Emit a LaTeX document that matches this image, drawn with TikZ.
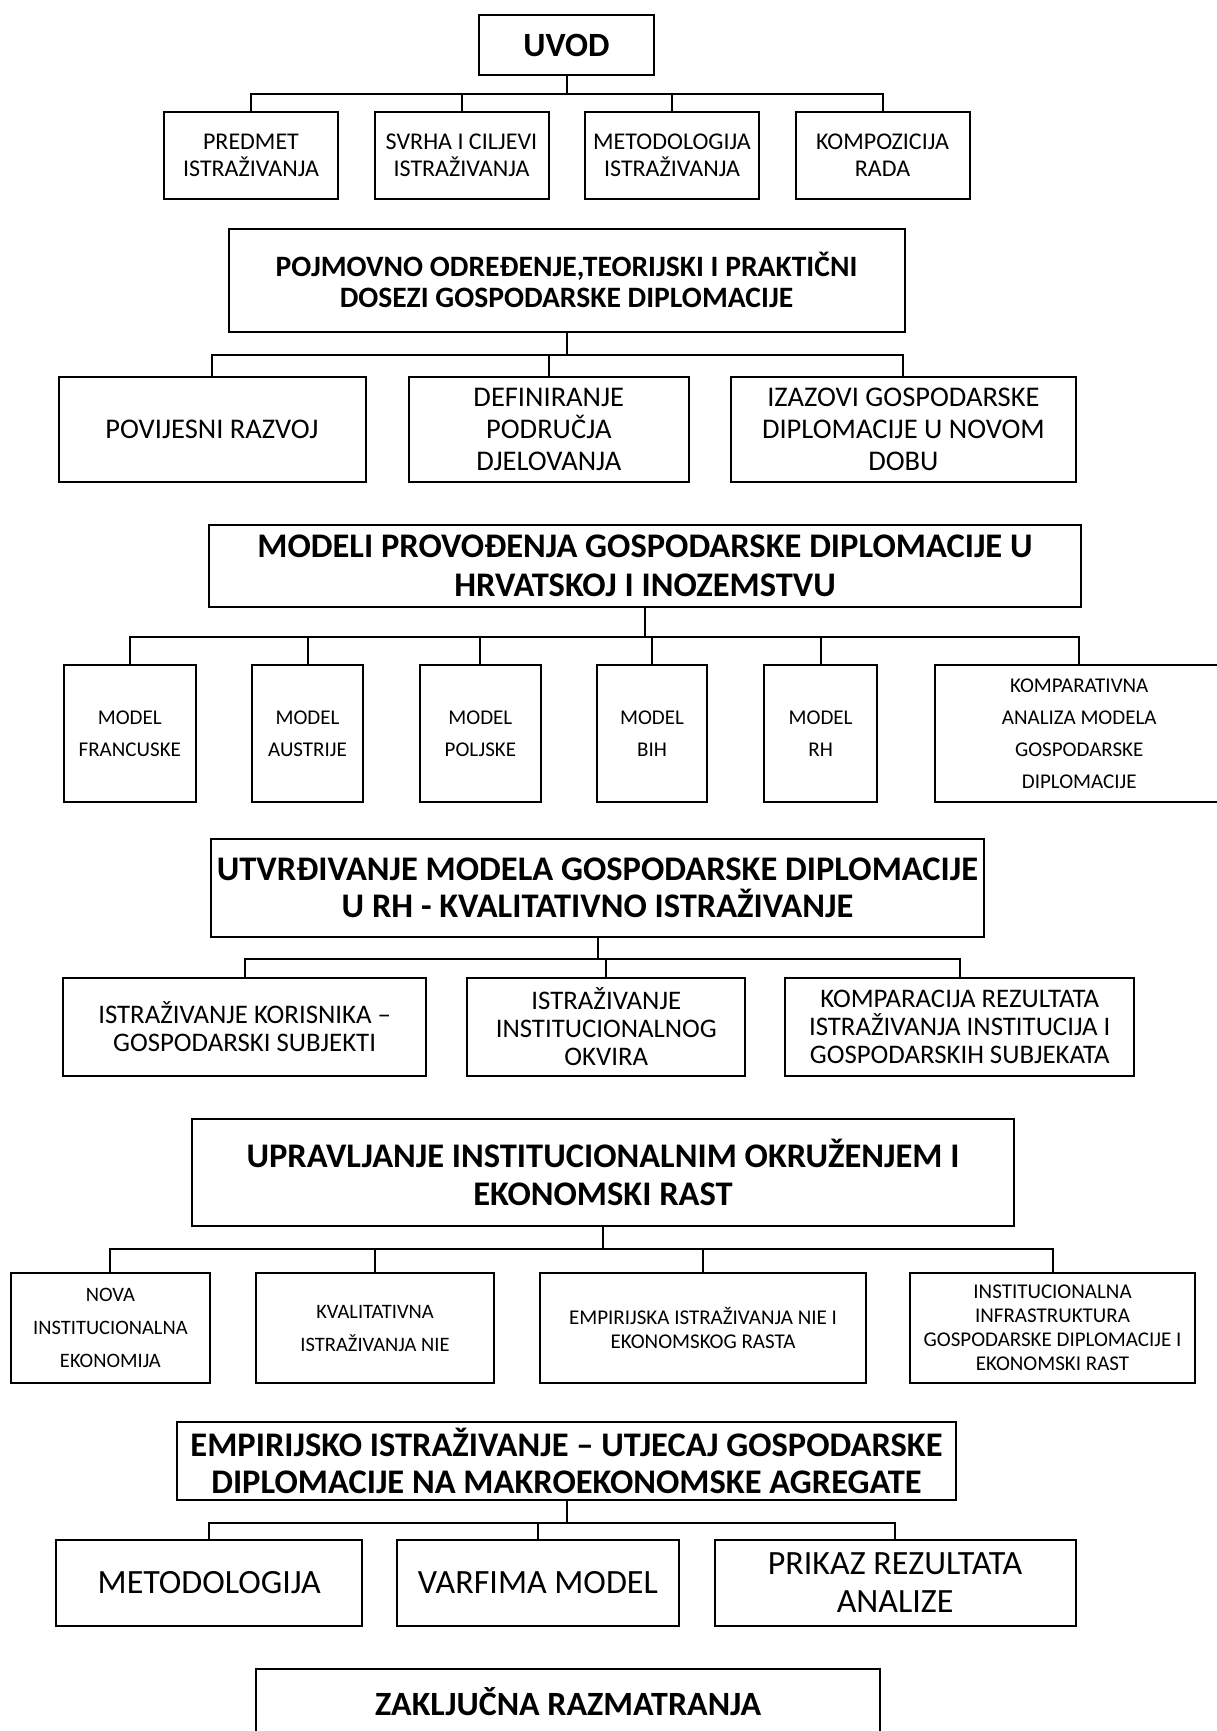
\documentclass[tikz,border=0pt]{standalone}
\usepackage{fontspec}
\setmainfont{Carlito}
\usepackage{tikz}

\tikzset{
    box/.style={draw, line width=2pt, align=center, inner sep=0pt},
    headbox/.style={box, font=\bfseries\fontsize{34}{38}\selectfont},
    link/.style={line width=2pt},
}

\begin{document}
\begin{tikzpicture}[x=1pt, y=-1pt]
        \useasboundingbox (0,0) rectangle (1217,1731);
        % uvod
        \node[headbox, minimum width=175, minimum height=60] (uvod) at (566.5,45) {UVOD};
        \node[box, font=\fontsize{24}{27.6}\selectfont, minimum width=174, minimum height=87.5] (predmet) at (251,155.3) {PREDMET\\ISTRAŽIVANJA};
        \node[box, font=\fontsize{24}{27.6}\selectfont, minimum width=174, minimum height=87.5] (svrha) at (461.5,155.3) {SVRHA I CILJEVI\\ISTRAŽIVANJA};
        \node[box, font=\fontsize{24}{27.6}\selectfont, minimum width=174, minimum height=87.5] (metod) at (672,155.3) {METODOLOGIJA\\ISTRAŽIVANJA};
        \node[box, font=\fontsize{24}{27.6}\selectfont, minimum width=174, minimum height=87.5] (kompoz) at (882.5,155.3) {KOMPOZICIJA\\RADA};
        \draw[link] (uvod.south) -- ++(0,17.8) -| (predmet.north);
        \draw[link] (uvod.south) -- ++(0,17.8) -| (svrha.north);
        \draw[link] (uvod.south) -- ++(0,17.8) -| (metod.north);
        \draw[link] (uvod.south) -- ++(0,17.8) -| (kompoz.north);

        % pojmovno odredjenje
        \node[headbox, font=\bfseries\fontsize{29.6}{31}\selectfont, minimum width=676, minimum height=103] (pojam) at (566.5,280) {POJMOVNO ODREĐENJE,TEORIJSKI I PRAKTIČNI\\DOSEZI GOSPODARSKE DIPLOMACIJE};
        \node[box, font=\fontsize{28.5}{32}\selectfont, minimum width=307, minimum height=105] (povijest) at (212,429) {POVIJESNI RAZVOJ};
        \node[box, font=\fontsize{28.5}{32}\selectfont, minimum width=280.4, minimum height=105] (podrucje) at (548.8,429) {DEFINIRANJE\\PODRUČJA\\DJELOVANJA};
        \node[box, font=\fontsize{28.5}{32}\selectfont, minimum width=344.7, minimum height=105] (izazovi) at (903.4,429) {IZAZOVI GOSPODARSKE\\DIPLOMACIJE U NOVOM\\DOBU};
        \draw[link] (pojam.south) -- ++(0,22.4) -| (povijest.north);
        \draw[link] (pojam.south) -- ++(0,22.4) -| (podrucje.north);
        \draw[link] (pojam.south) -- ++(0,22.4) -| (izazovi.north);

        % modeli
        \node[headbox, font=\bfseries\fontsize{34.5}{38.6}\selectfont, minimum width=872.3, minimum height=82.8] (modeli) at (645,566) {MODELI PROVOĐENJA GOSPODARSKE DIPLOMACIJE U\\HRVATSKOJ I INOZEMSTVU};
        \node[box, font=\fontsize{21}{32}\selectfont, minimum width=131.5, minimum height=137] (francuska) at (129.8,733.5) {MODEL\\FRANCUSKE};
        \node[box, font=\fontsize{21}{32}\selectfont, minimum width=111.5, minimum height=137] (austrija) at (307.5,733.5) {MODEL\\AUSTRIJE};
        \node[box, font=\fontsize{21}{32}\selectfont, minimum width=121.3, minimum height=137] (poljska) at (480.4,733.5) {MODEL\\POLJSKE};
        \node[box, font=\fontsize{21}{32}\selectfont, minimum width=109.3, minimum height=137] (bih) at (652,733.5) {MODEL\\BIH};
        \node[box, font=\fontsize{21}{32}\selectfont, minimum width=112.8, minimum height=137] (rh) at (820.6,733.5) {MODEL\\RH};
        \node[box, font=\fontsize{21}{32}\selectfont, minimum width=287.6, minimum height=137] (kompar) at (1079.2,733.5) {KOMPARATIVNA\\ANALIZA MODELA\\GOSPODARSKE\\DIPLOMACIJE};
        \draw[link] (modeli.south) -- ++(0,28.6) -| (francuska.north);
        \draw[link] (modeli.south) -- ++(0,28.6) -| (austrija.north);
        \draw[link] (modeli.south) -- ++(0,28.6) -| (poljska.north);
        \draw[link] (modeli.south) -- ++(0,28.6) -| (bih.north);
        \draw[link] (modeli.south) -- ++(0,28.6) -| (rh.north);
        \draw[link] (modeli.south) -- ++(0,28.6) -| (kompar.north);

        % utvrdjivanje modela
        \node[headbox, font=\bfseries\fontsize{34.5}{36.6}\selectfont, minimum width=773, minimum height=97.4] (utvrd) at (597.5,888) {UTVRĐIVANJE MODELA GOSPODARSKE DIPLOMACIJE\\U RH - KVALITATIVNO ISTRAŽIVANJE};
        \node[box, font=\fontsize{26.8}{28}\selectfont, minimum width=363, minimum height=97.2] (korisnici) at (244.6,1027) {ISTRAŽIVANJE KORISNIKA –\\GOSPODARSKI SUBJEKTI};
        \node[box, font=\fontsize{26.8}{28}\selectfont, minimum width=278.3, minimum height=97.2] (okvir) at (606.3,1027) {ISTRAŽIVANJE\\INSTITUCIONALNOG\\OKVIRA};
        \node[box, font=\fontsize{26.8}{28}\selectfont, minimum width=349, minimum height=97.2] (rezultati) at (959.7,1027) {KOMPARACIJA REZULTATA\\ISTRAŽIVANJA INSTITUCIJA I\\GOSPODARSKIH SUBJEKATA};
        \draw[link] (utvrd.south) -- ++(0,20.8) -| (korisnici.north);
        \draw[link] (utvrd.south) -- ++(0,20.8) -| (okvir.north);
        \draw[link] (utvrd.south) -- ++(0,20.8) -| (rezultati.north);

        % upravljanje okruzenjem
        \node[headbox, font=\bfseries\fontsize{34.5}{38.6}\selectfont, minimum width=821.7, minimum height=107] (uprav) at (603,1172.3) {UPRAVLJANJE INSTITUCIONALNIM OKRUŽENJEM I\\EKONOMSKI RAST};
        \node[box, font=\fontsize{20.5}{32.6}\selectfont, minimum width=198.8, minimum height=109.3] (nie) at (110.4,1328) {NOVA\\INSTITUCIONALNA\\EKONOMIJA};
        \node[box, font=\fontsize{20.5}{33}\selectfont, minimum width=237.5, minimum height=109.3] (kvalit) at (375,1328) {KVALITATIVNA\\ISTRAŽIVANJA NIE};
        \node[box, font=\fontsize{21}{23.5}\selectfont, minimum width=325.9, minimum height=109.3] (empir) at (703,1328) {EMPIRIJSKA ISTRAŽIVANJA NIE I\\EKONOMSKOG RASTA};
        \node[box, font=\fontsize{21}{24}\selectfont, minimum width=285, minimum height=109.3] (infra) at (1052.5,1328) {INSTITUCIONALNA\\INFRASTRUKTURA\\GOSPODARSKE DIPLOMACIJE I\\EKONOMSKI RAST};
        \draw[link] (uprav.south) -- ++(0,22) -| (nie.north);
        \draw[link] (uprav.south) -- ++(0,22) -| (kvalit.north);
        \draw[link] (uprav.south) -- ++(0,22) -| (empir.north);
        \draw[link] (uprav.south) -- ++(0,22) -| (infra.north);

        % empirijsko istrazivanje
        \node[headbox, font=\bfseries\fontsize{34.5}{36.5}\selectfont, minimum width=779.7, minimum height=78.4] (empirijsko) at (566.5,1461) {EMPIRIJSKO ISTRAŽIVANJE – UTJECAJ GOSPODARSKE\\DIPLOMACIJE NA MAKROEKONOMSKE AGREGATE};
        \node[box, font=\fontsize{34}{37.5}\selectfont, minimum width=305.9, minimum height=86.2] (metodologija) at (209.3,1582.6) {METODOLOGIJA};
        \node[box, font=\fontsize{34}{37.5}\selectfont, minimum width=282.7, minimum height=86.2] (varfima) at (537.9,1582.6) {VARFIMA MODEL};
        \node[box, font=\fontsize{34}{37.5}\selectfont, minimum width=361.2, minimum height=86.2] (prikaz) at (895.1,1582.6) {PRIKAZ REZULTATA\\ANALIZE};
        \draw[link] (empirijsko.south) -- ++(0,21.7) -| (metodologija.north);
        \draw[link] (empirijsko.south) -- ++(0,21.7) -| (varfima.north);
        \draw[link] (empirijsko.south) -- ++(0,21.7) -| (prikaz.north);

        % zakljucak
        \node[headbox, minimum width=624, minimum height=66] (zakljucak) at (568.2,1701.5) {ZAKLJUČNA RAZMATRANJA};
\end{tikzpicture}
\end{document}
